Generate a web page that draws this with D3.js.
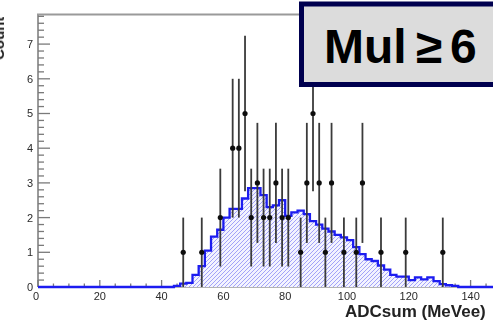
<!DOCTYPE html>
<html>
<head>
<meta charset="utf-8">
<script src="https://cdn.jsdelivr.net/npm/d3@7"></script>
<style>
  html, body { margin: 0; padding: 0; background: #fff; }
  svg { display: block; }
  text { font-family: "Liberation Sans", Arial, Helvetica, sans-serif; }
</style>
</head>
<body>
<div id="plot"></div>
<script>
// Simulated (MC) histogram: lower edge of each 2-unit bin and its content
const mcBinStart = [44, 46, 48, 50, 52, 54, 56, 58, 60, 62, 64, 66, 68, 70, 72, 74, 76, 78, 80, 82,
    84, 86, 88, 90, 92, 94, 96, 98, 100, 102, 104, 106, 108, 110, 112, 114, 116, 118, 120, 122,
    124, 126, 128, 130, 132, 134];
const mcCounts = [0.03, 0.1, 0.12, 0.35, 0.6, 1.05, 1.45, 1.65, 2.0, 2.25, 2.25, 2.55, 2.85, 2.85, 2.65, 2.3, 2.35, 2.5, 2.05, 2.15,
    2.2, 2.1, 1.9, 1.8, 1.68, 1.6, 1.5, 1.43, 1.35, 1.15, 0.95, 0.8, 0.75, 0.62, 0.5, 0.35, 0.3, 0.3, 0.2, 0.28,
    0.22, 0.28, 0.17, 0.08, 0.05, 0.03];

// Measured points (bin centre, count, error)
const dataX = [47, 53, 59, 63, 65, 67, 69, 71, 73, 75, 77, 79, 81, 85, 87, 89, 91, 93, 95, 99, 103, 105, 111, 119, 131];
const dataN = [1, 1, 2, 4, 4, 5, 2, 3, 2, 2, 3, 2, 2, 1, 3, 5, 3, 1, 3, 1, 1, 3, 1, 1, 1];
const dataErr = [1, 1, 1.41, 2, 2, 2.24, 1.41, 1.73, 1.41, 1.41, 1.73, 1.41, 1.41, 1, 1.73, 2.24, 1.73, 1, 1.73, 1, 1, 1.73, 1, 1, 1];

const xTickValues = [0, 20, 40, 60, 80, 100, 120, 140];
const yTickValues = [0, 1, 2, 3, 4, 5, 6, 7];
const xTitle = 'ADCsum (MeVee)';
const yTitle = 'Count';
const boxLabel = ['Mul', '≥', '6'];

const width = 493;
const height = 320;

const svg = d3.select('#plot')
    .append('svg')
    .attr('width', width)
    .attr('height', height);

svg.append('rect').attr('width', width).attr('height', height).attr('fill', '#fff');

const defs = svg.append('defs');
const hatch = defs.append('pattern')
    .attr('id', 'hatch')
    .attr('patternUnits', 'userSpaceOnUse')
    .attr('width', 4)
    .attr('height', 4);
hatch.append('rect').attr('width', 4).attr('height', 4).attr('fill', '#f3f3ff');
hatch.append('path')
    .attr('d', 'M-1,1 l2,-2 M0,4 l4,-4 M3,5 l2,-2')
    .attr('stroke', '#8e8ef6')
    .attr('stroke-width', 0.8);

defs.append('filter').attr('id', 'soft')
    .append('feGaussianBlur').attr('stdDeviation', 0.45);

const x = d3.scaleLinear().domain([0, 150]).range([38, 501.5]);
const y = d3.scaleLinear().domain([0, 7.85]).range([287, 14.6]);

const chart = svg.append('g').attr('filter', 'url(#soft)');

// frame
chart.append('path')
    .attr('d', `M${x(0)},${y(0)} V${y(7.85)} H${x(150)}`)
    .attr('fill', 'none')
    .attr('stroke', '#9a9a9a')
    .attr('stroke-width', 2);
chart.append('line')
    .attr('x1', x(0)).attr('x2', x(150))
    .attr('y1', y(0)).attr('y2', y(0))
    .attr('stroke', '#9a9a9a')
    .attr('stroke-width', 1.5);

// y ticks: major every 1, minor every 0.2
const yMinor = d3.range(0, 7.81, 0.2);
chart.append('g').selectAll('line')
    .data(yMinor)
    .join('line')
    .attr('x1', x(0))
    .attr('x2', d => x(0) + (Math.abs(d - Math.round(d)) < 0.01 ? 12 : 6))
    .attr('y1', d => y(d))
    .attr('y2', d => y(d))
    .attr('stroke', '#7a7a7a')
    .attr('stroke-width', 1.3);

// x ticks: major every 20, minor every 5
const xMinor = d3.range(0, 151, 5);
chart.append('g').selectAll('line')
    .data(xMinor)
    .join('line')
    .attr('x1', d => x(d))
    .attr('x2', d => x(d))
    .attr('y1', y(0))
    .attr('y2', d => y(0) - (d % 20 === 0 ? 7 : 3.5))
    .attr('stroke', '#7a7a7a')
    .attr('stroke-width', 1.3);

chart.append('g').selectAll('text')
    .data(yTickValues)
    .join('text')
    .attr('x', 33)
    .attr('y', d => y(d) + 4)
    .attr('text-anchor', 'end')
    .attr('font-size', '11px')
    .attr('fill', '#2a2a2a')
    .text(d => d);

chart.append('g').selectAll('text')
    .data(xTickValues)
    .join('text')
    .attr('x', d => x(d) - (d === 0 ? 2 : 0))
    .attr('y', 300)
    .attr('text-anchor', 'middle')
    .attr('font-size', '11px')
    .attr('fill', '#2a2a2a')
    .text(d => d);

chart.append('text')
    .attr('x', 345)
    .attr('y', 317)
    .attr('font-size', '17px')
    .attr('font-weight', 'bold')
    .attr('fill', '#222')
    .text(xTitle);

chart.append('text')
    .attr('transform', `translate(4,${y(7.85) + 2}) rotate(-90)`)
    .attr('text-anchor', 'end')
    .attr('font-size', '15px')
    .attr('font-weight', 'bold')
    .attr('fill', '#222')
    .text(yTitle);

// MC histogram as a step curve
const mcPoints = [{lo: 0, v: 0}]
    .concat(mcBinStart.map((lo, i) => ({lo, v: mcCounts[i]})))
    .concat([{lo: mcBinStart[mcBinStart.length - 1] + 2, v: 0}, {lo: 150, v: 0}]);

chart.append('path')
    .datum(mcPoints)
    .attr('d', d3.area().curve(d3.curveStepAfter)
        .x(d => x(d.lo)).y0(y(0)).y1(d => y(d.v)))
    .attr('fill', 'url(#hatch)');

chart.append('path')
    .datum(mcPoints)
    .attr('d', d3.line().curve(d3.curveStepAfter)
        .x(d => x(d.lo)).y(d => y(d.v)))
    .attr('fill', 'none')
    .attr('stroke', '#1c1cf0')
    .attr('stroke-width', 2.3);

// data with error bars
const pts = dataX.map((c, i) => ({c, n: dataN[i], e: dataErr[i]}));
chart.append('g').selectAll('line')
    .data(pts)
    .join('line')
    .attr('x1', d => x(d.c))
    .attr('x2', d => x(d.c))
    .attr('y1', d => y(Math.max(0, d.n - d.e)))
    .attr('y2', d => y(d.n + d.e))
    .attr('stroke', '#3a3a3a')
    .attr('stroke-width', 1.8);
chart.append('g').selectAll('circle')
    .data(pts)
    .join('circle')
    .attr('cx', d => x(d.c))
    .attr('cy', d => y(d.n))
    .attr('r', 2.6)
    .attr('fill', '#111');

// multiplicity label box
svg.append('rect')
    .attr('x', 301.5)
    .attr('y', 4)
    .attr('width', 230)
    .attr('height', 80.5)
    .attr('fill', '#dcdcdc')
    .attr('stroke', '#00004f')
    .attr('stroke-width', 5);

const labelX = [324, 416, 450];
svg.append('g').selectAll('text')
    .data(boxLabel)
    .join('text')
    .attr('x', (d, i) => labelX[i])
    .attr('y', 63)
    .attr('font-size', '48px')
    .attr('font-weight', 'bold')
    .attr('fill', '#000')
    .text(d => d);
</script>
</body>
</html>
